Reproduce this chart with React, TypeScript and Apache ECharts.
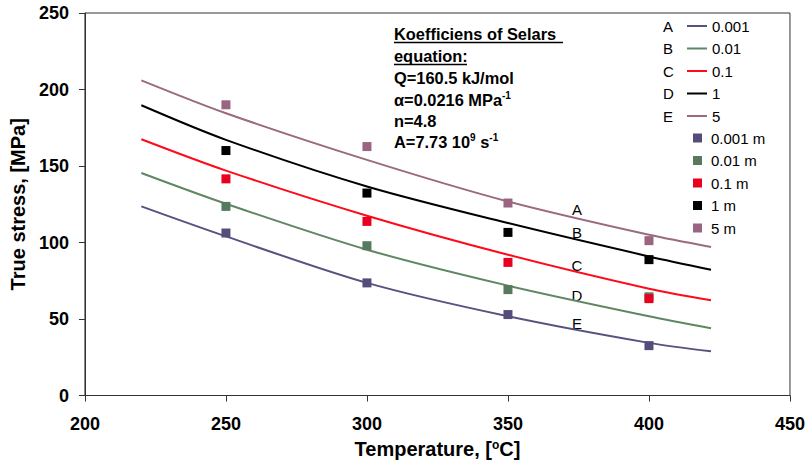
import React, { useEffect, useRef } from 'react';
import * as echarts from 'echarts';

const FONT = 'Liberation Sans, Arial, sans-serif';

// Model curves (Sellars equation) – temperature, stress
const lineTemps = [220, 250, 300, 350, 400, 422];
const line0001 = [123.6, 104.0, 73.6, 51.8, 34.4, 28.9];
const line001 = [145.4, 125.3, 95.3, 71.8, 51.8, 43.9];
const line01 = [167.5, 147.0, 117.5, 92.0, 69.8, 62.2];
const line1 = [189.7, 167.1, 136.6, 112.7, 90.9, 82.2];
const line5 = [206.0, 184.5, 154.0, 126.8, 105.0, 97.1];

// Measured points
const pointTemps = [250, 300, 350, 400];
const pts0001 = [106.2, 73.6, 52.9, 32.6];
const pts001 = [123.6, 97.9, 69.2, 64.5];
const pts01 = [141.6, 113.8, 87.0, 63.3];
const pts1 = [160.1, 132.3, 106.6, 88.8];
const pts5 = [190.0, 162.7, 125.8, 101.2];

const lineNames = ['0.001', '0.01', '0.1', '1', '5'];
const pointNames = ['0.001 m', '0.01 m', '0.1 m', '1 m', '5 m'];
const letters = ['A', 'B', 'C', 'D', 'E'];
const xTicks = { min: 200, max: 450, interval: 50 };
const yTicks = { min: 0, max: 250, interval: 50 };

const lineColors = ['#57527F', '#5F8764', '#FF0A1A', '#000000', '#9C6A7E'];
const pointColors = ['#534E79', '#577A5E', '#E8001E', '#000000', '#996581'];

const lineData = [line0001, line001, line01, line1, line5];
const pointData = [pts0001, pts001, pts01, pts1, pts5];

export default function App() {
  const ref = useRef<HTMLDivElement>(null);
  useEffect(() => {
    if (!ref.current) return;
    const chart = echarts.init(ref.current, undefined, { renderer: 'svg' });

    const lineSeries = lineNames.map((name, k) => ({
      name,
      type: 'line',
      data: lineTemps.map((t, i) => [t, lineData[k][i]]),
      showSymbol: false,
      smooth: 0.3,
      color: lineColors[k],
      lineStyle: { width: 2, color: lineColors[k] },
      z: 2,
    }));
    const pointSeries = pointNames.map((name, k) => ({
      name,
      type: 'scatter',
      data: pointTemps.map((t, i) => [t, pointData[k][i]]),
      symbol: 'rect',
      symbolSize: 9,
      color: pointColors[k],
      itemStyle: { color: pointColors[k], opacity: 1 },
      z: 3,
    }));

    const bold = { fontFamily: FONT, fontWeight: 'bold', fontSize: 16.4, color: '#000', lineHeight: 20 };
    const sup = { fontFamily: FONT, fontWeight: 'bold', fontSize: 10, color: '#000', lineHeight: 10, verticalAlign: 'top' };

    const annX = 394;
    const annRows = [34, 56, 78, 100, 121, 142];
    const annTexts = [
      '{b|Koefficiens of Selars}',
      '{b|equation:}',
      '{b|Q=160.5 kJ/mol}',
      '{b|α=0.0216 MPa}{s|-1}',
      '{b|n=4.8}',
      '{b|A=7.73 10}{s|9}{b| s}{s|-1}',
    ];

    const graphics: any[] = [];
    annTexts.forEach((t, i) => {
      graphics.push({
        type: 'text',
        x: annX,
        y: annRows[i],
        style: { text: t, rich: { b: bold, s: sup }, verticalAlign: 'middle', align: 'left' },
      });
    });
    graphics.push({ type: 'line', shape: { x1: annX, y1: 42.5, x2: 563, y2: 42.5 }, style: { stroke: '#000', lineWidth: 1.5 } });
    graphics.push({ type: 'line', shape: { x1: annX, y1: 64.5, x2: 467, y2: 64.5 }, style: { stroke: '#000', lineWidth: 1.5 } });

    const legendRows = [26, 48.5, 71, 93.5, 116];
    letters.forEach((l, i) => {
      graphics.push({
        type: 'text',
        x: 663,
        y: legendRows[i],
        style: { text: l, fontFamily: FONT, fontSize: 15, fill: '#000', verticalAlign: 'middle', align: 'left' },
      });
    });

    const curveLabelY = [209, 232, 265, 295, 323];
    letters.forEach((l, i) => {
      graphics.push({
        type: 'text',
        x: 577,
        y: curveLabelY[i],
        style: { text: l, fontFamily: FONT, fontSize: 15, fill: '#000', verticalAlign: 'middle', align: 'center' },
      });
    });

    chart.setOption({
      animation: false,
      backgroundColor: '#fff',
      grid: { left: 80, right: 18, top: 13, bottom: 70.5, show: true, borderColor: '#333', borderWidth: 1, containLabel: false },
      xAxis: {
        type: 'value',
        ...xTicks,
        name: 'Temperature, [{s|o}C]',
        nameLocation: 'middle',
        nameGap: 43,
        nameTextStyle: {
          fontFamily: FONT, fontWeight: 'bold', fontSize: 20, color: '#000',
          rich: {
            s: { fontFamily: FONT, fontWeight: 'bold', fontSize: 12, color: '#000', lineHeight: 12, verticalAlign: 'top' },
          },
        },
        axisLine: { show: true, onZero: false, lineStyle: { color: '#333', width: 1 } },
        axisTick: { show: true, inside: false, length: 6, lineStyle: { color: '#333' } },
        axisLabel: { fontFamily: FONT, fontWeight: 'bold', fontSize: 18, color: '#000', margin: 19 },
        splitLine: { show: false },
      },
      yAxis: {
        type: 'value',
        ...yTicks,
        name: 'True stress, [MPa]',
        nameLocation: 'middle',
        nameRotate: 90,
        nameGap: 52,
        nameTextStyle: { fontFamily: FONT, fontWeight: 'bold', fontSize: 20, color: '#000' },
        axisLine: { show: true, lineStyle: { color: '#333', width: 1 } },
        axisTick: { show: true, inside: false, length: 6, lineStyle: { color: '#333' } },
        axisLabel: { fontFamily: FONT, fontWeight: 'bold', fontSize: 18, color: '#000', margin: 16 },
        splitLine: { show: false },
      },
      legend: [
        {
          data: lineNames,
          orient: 'vertical',
          left: 687,
          top: 18,
          icon: 'rect',
          itemWidth: 20,
          itemHeight: 2,
          itemGap: 6.5,
          padding: 0,
          selectedMode: false,
          textStyle: { fontFamily: FONT, fontSize: 15, color: '#000', lineHeight: 16 },
        },
        {
          data: pointNames,
          orient: 'vertical',
          left: 693,
          top: 130,
          icon: 'rect',
          itemWidth: 9,
          itemHeight: 9,
          itemGap: 6.5,
          padding: 0,
          selectedMode: false,
          itemStyle: { opacity: 1 },
          textStyle: { fontFamily: FONT, fontSize: 15, color: '#000', lineHeight: 16, padding: [0, 0, 0, 4] },
        },
      ],
      graphic: graphics,
      series: [...lineSeries, ...pointSeries],
    });

    return () => chart.dispose();
  }, []);

  return (
    <div
      ref={ref}
      style={{ position: 'fixed', left: 0, top: 0, width: 808, height: 466, background: '#fff' }}
    />
  );
}
